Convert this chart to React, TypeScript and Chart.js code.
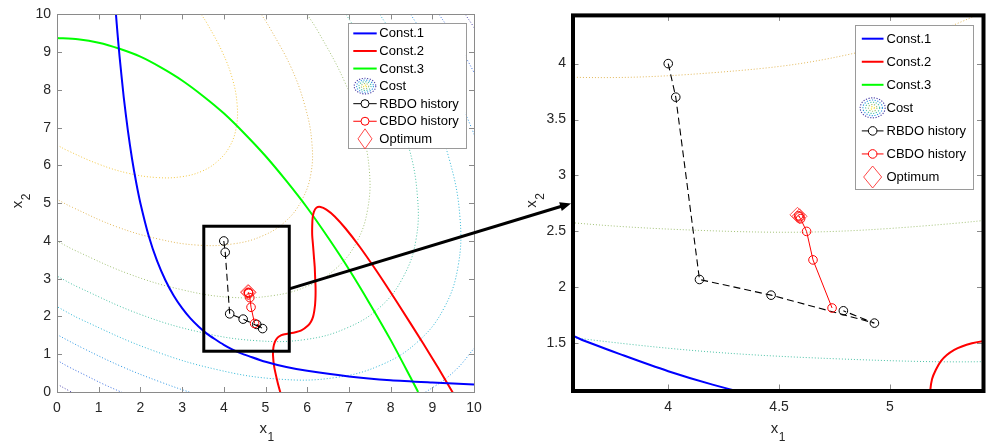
import React, { useEffect, useRef } from 'react';
import { Chart, registerables } from 'chart.js';

Chart.register(...registerables);

const FONT = '"Liberation Sans", Arial, Helvetica, sans-serif';

// ---------- axes ----------
const mainRange = [0, 10];
const mainTicks = [0, 1, 2, 3, 4, 5, 6, 7, 8, 9, 10];
const zoomXRange = [3.566, 5.422];
const zoomYRange = [1.073, 4.44];
const zoomXTicks = [4, 4.5, 5];
const zoomYTicks = [1.5, 2, 2.5, 3, 3.5, 4];

// ---------- zoom box drawn on the main plot, and the arrow (data units) ----------
const zoomBoxX = [3.52, 5.57];
const zoomBoxY = [1.08, 4.39];
const arrowY = [2.73, 2.75];

// ---------- constraints [x1, x2] ----------
const const1: number[][] = [
  [1.414, 10], [1.45, 9.51], [1.5, 8.89], [1.6, 7.81], [1.7, 6.92], [1.8, 6.17], [1.9, 5.54],
  [2.0, 5.0], [2.2, 4.13], [2.4, 3.47], [2.6, 2.96], [2.8, 2.55], [3.0, 2.22], [3.2, 1.95],
  [3.4, 1.73], [3.6, 1.54], [3.8, 1.39], [4.0, 1.25], [4.2, 1.13], [4.4, 1.03], [4.6, 0.95],
  [5.0, 0.8], [5.5, 0.66], [6.0, 0.56], [7.0, 0.41], [8.0, 0.31], [9.0, 0.25], [10.0, 0.2],
];
const const2: number[][] = [
  [5.42, -0.27], [5.35, 0.01], [5.29, 0.26], [5.21, 0.66], [5.18, 0.97], [5.19, 1.18], [5.23, 1.34],
  [5.29, 1.44], [5.37, 1.5], [5.46, 1.53], [5.67, 1.57], [5.86, 1.63], [6.02, 1.76], [6.09, 1.86],
  [6.14, 1.99], [6.17, 2.15], [6.19, 2.33], [6.2, 2.55], [6.2, 2.79], [6.19, 3.05], [6.18, 3.32],
  [6.16, 3.6], [6.14, 3.88], [6.12, 4.15], [6.12, 4.4], [6.13, 4.61], [6.16, 4.77], [6.22, 4.88],
  [6.32, 4.9], [6.46, 4.83], [6.66, 4.65], [6.92, 4.33], [7.25, 3.86], [7.66, 3.21], [8.17, 2.35],
  [8.79, 1.27], [9.14, 0.64], [9.52, -0.07],
];
const const3: number[][] = [
  [0, 9.375], [0.5, 9.34], [1, 9.25], [1.5, 9.09], [2, 8.88], [2.5, 8.59], [3, 8.25], [3.5, 7.84],
  [4, 7.38], [4.5, 6.84], [5, 6.25], [5.5, 5.59], [6, 4.88], [6.5, 4.09], [7, 3.25], [7.5, 2.34],
  [8, 1.38], [8.5, 0.34], [8.66, 0],
];

// ---------- cost contours (levels -0.5 ... -4) ----------
const cost05: number[][] = [
  [3.46, 10], [3.61, 9.74], [3.97, 8.99], [4.21, 8.28], [4.32, 7.61], [4.3, 7.02], [4.15, 6.52],
  [3.87, 6.13], [3.48, 5.85], [2.98, 5.7], [2.39, 5.68], [1.72, 5.79], [1.01, 6.03], [0.26, 6.39], [0, 6.54],
];
const cost10: number[][] = [
  [4.9, 10], [5.11, 9.63], [5.62, 8.58], [5.95, 7.56], [6.11, 6.63], [6.09, 5.79], [5.87, 5.08],
  [5.48, 4.52], [4.92, 4.13], [4.21, 3.92], [3.37, 3.89], [2.44, 4.05], [1.42, 4.38], [0.37, 4.89], [0, 5.1],
];
const cost15: number[][] = [
  [6.0, 10], [6.26, 9.55], [6.88, 8.26], [7.29, 7.02], [7.49, 5.87], [7.45, 4.84], [7.19, 3.98],
  [6.71, 3.29], [6.02, 2.81], [5.16, 2.55], [4.13, 2.51], [2.99, 2.71], [1.74, 3.12], [0.45, 3.74], [0, 4.0],
];
const cost20: number[][] = [
  [6.93, 10], [7.23, 9.48], [7.95, 7.99], [8.42, 6.55], [8.64, 5.23], [8.61, 4.04], [8.3, 3.04],
  [7.75, 2.25], [6.96, 1.7], [5.96, 1.39], [4.77, 1.36], [3.45, 1.58], [2.01, 2.05], [0.52, 2.77], [0, 3.07],
];
const cost25: number[][] = [
  [7.74, 10], [8.08, 9.42], [8.89, 7.75], [9.41, 6.15], [9.66, 4.67], [9.62, 3.34], [9.28, 2.22],
  [8.66, 1.34], [7.78, 0.72], [6.66, 0.38], [5.33, 0.34], [3.85, 0.59], [2.25, 1.12], [0.58, 1.92], [0, 2.26],
];
const cost30: number[][] = [
  [8.48, 10], [8.85, 9.36], [9.73, 7.53], [10.31, 5.78], [10.59, 4.16], [10.54, 2.71], [10.17, 1.48],
  [9.86, 0.96], [9.49, 0.51], [9.04, 0.14], [8.52, -0.17], [7.29, -0.54], [5.84, -0.59], [4.22, -0.31],
  [3.35, -0.06], [2.47, 0.27], [1.56, 0.67], [0.64, 1.15], [0, 1.52],
];
const cost35a: number[][] = [[9.16, 10], [9.34, 9.71], [9.56, 9.31], [9.78, 8.91], [10.07, 8.32]];
const cost35b: number[][] = [[0, 0.84], [0.29, 0.66], [0.69, 0.44], [1.09, 0.22], [1.68, -0.07]];
const cost40a: number[][] = [[9.79, 10], [9.98, 9.69], [10.1, 9.48]];
const cost40b: number[][] = [[0, 0.21], [0.31, 0.02], [0.52, -0.1]];

// ---------- optimisation histories ----------
const rbdoX = [4.0, 4.034, 4.141, 4.464, 4.93, 4.79];
const rbdoY = [4.0, 3.7, 2.07, 1.93, 1.68, 1.79];
const cbdoX = [4.739, 4.653, 4.624, 4.597, 4.588, 4.592];
const cbdoY = [1.815, 2.245, 2.5, 2.613, 2.64, 2.63];
const optX = [4.583, 4.592];
const optY = [2.648, 2.635];

const legendLabels = ['Const.1', 'Const.2', 'Const.3', 'Cost', 'RBDO history', 'CBDO history', 'Optimum'];

// ---------- styles ----------
const C_BLUE = '#0000ff';
const C_RED = '#ff0000';
const C_GREEN = '#00ff00';
const contourStyles: [number[][], string][] = [
  [cost05, '#f3c844'],
  [cost10, '#e2b85a'],
  [cost15, '#a3c278'],
  [cost20, '#4cc2a6'],
  [cost25, '#30b7d6'],
  [cost30, '#2e98e4'],
  [cost35a, '#3a6ee0'],
  [cost35b, '#3a6ee0'],
  [cost40a, '#4a40a8'],
  [cost40b, '#4a40a8'],
];

const RIGHT_LEFT = 520;

const toPts = (arr: number[][]) => arr.map(([x, y]) => ({ x, y }));
const zip = (xs: number[], ys: number[]) => xs.map((x, i) => ({ x, y: ys[i] }));

function buildDatasets() {
  const ds: any[] = [];
  ds.push({
    data: zip(optX, optY), showLine: false, pointStyle: 'rectRot', pointRadius: 7.5,
    pointBorderColor: 'rgba(255,40,40,0.8)', pointBackgroundColor: 'rgba(0,0,0,0)', pointBorderWidth: 1, order: 0, clip: 0,
  });
  ds.push({
    data: zip(cbdoX, cbdoY), showLine: true, borderColor: C_RED, borderWidth: 1, tension: 0,
    pointStyle: 'circle', pointRadius: 4.3, pointBorderColor: C_RED, pointBackgroundColor: 'rgba(0,0,0,0)', pointBorderWidth: 1,
    order: 1, clip: 0,
  });
  ds.push({
    data: zip(rbdoX, rbdoY), showLine: true, borderColor: '#000', borderWidth: 1.1, borderDash: [7, 4], tension: 0,
    pointStyle: 'circle', pointRadius: 4.3, pointBorderColor: '#000', pointBackgroundColor: 'rgba(0,0,0,0)', pointBorderWidth: 1,
    order: 2, clip: 0,
  });
  const lines: [number[][], string][] = [[const1, C_BLUE], [const2, C_RED], [const3, C_GREEN]];
  lines.forEach(([d, c], i) =>
    ds.push({ data: toPts(d), showLine: true, borderColor: c, borderWidth: 2, pointRadius: 0, tension: 0.25, order: 3 + i, clip: 0 })
  );
  contourStyles.forEach(([d, c], i) =>
    ds.push({
      data: toPts(d), showLine: true, borderColor: c, borderWidth: 1, borderDash: [1, 2], pointRadius: 0,
      tension: 0.4, order: 10 + i, clip: 0,
    })
  );
  return ds;
}

function axis(range: number[], ticks: number[], fit: (s: any) => void, padding: number) {
  return {
    type: 'linear',
    min: range[0],
    max: range[1],
    afterBuildTicks: (s: any) => { s.ticks = ticks.map((v) => ({ value: v })); },
    afterFit: fit,
    grid: { display: false, drawTicks: false },
    border: { display: false },
    ticks: {
      autoSkip: false, maxRotation: 0, padding,
      font: { family: FONT, size: 14 }, color: '#262626',
      callback: (v: any) => String(v),
    },
  };
}

type LegendCfg = {
  w: number; h: number; inset: number[]; firstRow: number; dy: number; sample: number[]; text: number;
  icon: number[]; diamond: number[]; circle: number;
};
const legendMain: LegendCfg = {
  w: 118, h: 125, inset: [8.3, 8.4], firstRow: 10.6, dy: 17.57, sample: [5.6, 29], text: 31.6,
  icon: [10.8, 7.8], diamond: [7, 10], circle: 4,
};
const legendZoom: LegendCfg = {
  w: 118.3, h: 164, inset: [10, 11], firstRow: 13.3, dy: 23.05, sample: [6.6, 28.3], text: 31.3,
  icon: [12.5, 10], diamond: [9, 11], circle: 4.3,
};

function drawLegend(ctx: CanvasRenderingContext2D, a: any, cfg: LegendCfg) {
  const bx = a.right - cfg.inset[0] - cfg.w;
  const by = a.top + cfg.inset[1];
  ctx.save();
  ctx.fillStyle = '#fff';
  ctx.fillRect(bx, by, cfg.w, cfg.h);
  ctx.strokeStyle = '#9a9a9a';
  ctx.lineWidth = 1;
  ctx.strokeRect(Math.round(bx) + 0.5, Math.round(by) + 0.5, Math.round(cfg.w), Math.round(cfg.h));
  const s0 = bx + cfg.sample[0];
  const s1 = bx + cfg.sample[1];
  const cx = (s0 + s1) / 2;
  legendLabels.forEach((label, i) => {
    const y = by + cfg.firstRow + i * cfg.dy;
    ctx.setLineDash([]);
    if (i < 3) {
      ctx.strokeStyle = [C_BLUE, C_RED, C_GREEN][i];
      ctx.lineWidth = 2;
      ctx.beginPath(); ctx.moveTo(s0, y); ctx.lineTo(s1, y); ctx.stroke();
    } else if (i === 3) {
      const rings: [number, string][] = [[1, '#4a40a8'], [0.78, '#2e98e4'], [0.56, '#4cc2a6'], [0.34, '#a3c278'], [0.14, '#f5e030']];
      ctx.lineWidth = 1.1;
      ctx.setLineDash([1.2, 1.5]);
      rings.forEach(([f, c]) => {
        ctx.strokeStyle = c;
        ctx.beginPath();
        ctx.ellipse(cx, y, cfg.icon[0] * f, cfg.icon[1] * f, 0, 0, Math.PI * 2);
        ctx.stroke();
      });
      ctx.setLineDash([]);
    } else if (i === 4 || i === 5) {
      const col = i === 4 ? '#000' : C_RED;
      ctx.strokeStyle = col;
      ctx.lineWidth = 1;
      ctx.beginPath(); ctx.moveTo(s0, y); ctx.lineTo(s1, y); ctx.stroke();
      ctx.fillStyle = '#fff';
      ctx.beginPath(); ctx.arc(cx, y, cfg.circle, 0, Math.PI * 2); ctx.fill(); ctx.stroke();
    } else {
      ctx.strokeStyle = 'rgba(255,40,40,0.85)';
      ctx.lineWidth = 1;
      ctx.beginPath();
      ctx.moveTo(cx, y - cfg.diamond[1]);
      ctx.lineTo(cx + cfg.diamond[0], y);
      ctx.lineTo(cx, y + cfg.diamond[1]);
      ctx.lineTo(cx - cfg.diamond[0], y);
      ctx.closePath();
      ctx.stroke();
    }
    ctx.fillStyle = '#000';
    ctx.font = `13px ${FONT}`;
    ctx.textAlign = 'left';
    ctx.textBaseline = 'middle';
    ctx.fillText(label, bx + cfg.text, y + 0.5);
  });
  ctx.restore();
}

function drawTitle(ctx: CanvasRenderingContext2D, main: string, sub: string, x: number, y: number, rotate: boolean) {
  ctx.save();
  ctx.translate(x, y);
  if (rotate) ctx.rotate(-Math.PI / 2);
  ctx.fillStyle = '#262626';
  ctx.textAlign = 'left';
  ctx.textBaseline = 'alphabetic';
  ctx.font = `15px ${FONT}`;
  const w1 = ctx.measureText(main).width;
  ctx.font = `12px ${FONT}`;
  const w2 = ctx.measureText(sub).width;
  const start = -(w1 + w2) / 2;
  ctx.font = `15px ${FONT}`;
  ctx.fillText(main, start, 0);
  ctx.font = `12px ${FONT}`;
  ctx.fillText(sub, start + w1 + 0.5, 8);
  ctx.restore();
}

function decorPlugin(kind: 'main' | 'zoom') {
  return {
    id: 'decor_' + kind,
    afterDraw(chart: any) {
      const { ctx, chartArea: a, scales } = chart;
      const xs = scales.x;
      const ys = scales.y;
      ctx.save();
      // inward tick marks on all four sides
      const tl = kind === 'main' ? 5 : 6.5;
      ctx.strokeStyle = '#8a8a8a';
      ctx.lineWidth = 1;
      ctx.beginPath();
      xs.ticks.forEach((t: any) => {
        const px = Math.round(xs.getPixelForValue(t.value)) + 0.5;
        ctx.moveTo(px, a.bottom); ctx.lineTo(px, a.bottom - tl);
        ctx.moveTo(px, a.top); ctx.lineTo(px, a.top + tl);
      });
      ys.ticks.forEach((t: any) => {
        const py = Math.round(ys.getPixelForValue(t.value)) + 0.5;
        ctx.moveTo(a.left, py); ctx.lineTo(a.left + tl, py);
        ctx.moveTo(a.right, py); ctx.lineTo(a.right - tl, py);
      });
      ctx.stroke();
      if (kind === 'main') {
        ctx.strokeStyle = '#8a8a8a';
        ctx.lineWidth = 1;
        ctx.strokeRect(Math.round(a.left) + 0.5, Math.round(a.top) + 0.5, Math.round(a.width), Math.round(a.height));
        // zoom box
        const x0 = xs.getPixelForValue(zoomBoxX[0]);
        const x1 = xs.getPixelForValue(zoomBoxX[1]);
        const y0 = ys.getPixelForValue(zoomBoxY[0]);
        const y1 = ys.getPixelForValue(zoomBoxY[1]);
        ctx.strokeStyle = '#000';
        ctx.lineWidth = 3;
        ctx.strokeRect(x0, y1, x1 - x0, y0 - y1);
        drawLegend(ctx, a, legendMain);
        drawTitle(ctx, 'x', '1', (a.left + a.right) / 2 + 1, 433.3, false);
        drawTitle(ctx, 'x', '2', 21.7, (a.top + a.bottom) / 2 - 2, true);
      } else {
        ctx.strokeStyle = '#000';
        ctx.lineWidth = 4;
        ctx.strokeRect(a.left + 1, a.top + 1, a.width - 1, a.height - 1);
        drawLegend(ctx, a, legendZoom);
        drawTitle(ctx, 'x', '1', (a.left + a.right) / 2, 433.3, false);
        drawTitle(ctx, 'x', '2', 16, (a.top + a.bottom) / 2 - 2, true);
      }
      ctx.restore();
    },
  };
}

function makeConfig(kind: 'main' | 'zoom'): any {
  const isMain = kind === 'main';
  return {
    type: 'scatter',
    data: { datasets: buildDatasets() },
    options: {
      responsive: false,
      animation: false,
      devicePixelRatio: 1,
      events: [],
      layout: { padding: isMain ? { left: 0, right: 26, top: 13, bottom: 0 } : { left: 0, right: 2, top: 12, bottom: 0 } },
      elements: { line: { capBezierPoints: false } },
      plugins: { legend: { display: false }, tooltip: { enabled: false } },
      scales: {
        x: axis(isMain ? mainRange : zoomXRange, isMain ? mainTicks : zoomXTicks, (s: any) => { s.height = isMain ? 52 : 53; }, 8),
        y: axis(isMain ? mainRange : zoomYRange, isMain ? mainTicks : zoomYTicks, (s: any) => { s.width = isMain ? 57 : 52; }, 6),
      },
    },
    plugins: [decorPlugin(kind)],
  };
}

function drawArrow(canvas: HTMLCanvasElement, left: any, right: any) {
  const ctx = canvas.getContext('2d');
  if (!ctx) return;
  ctx.clearRect(0, 0, canvas.width, canvas.height);
  const x0 = left.scales.x.getPixelForValue(zoomBoxX[1]);
  const y0 = left.scales.y.getPixelForValue(arrowY[0]);
  const x1 = right.scales.x.getPixelForValue(zoomXRange[0]) + RIGHT_LEFT - 1;
  const y1 = right.scales.y.getPixelForValue(arrowY[1]);
  const ang = Math.atan2(y1 - y0, x1 - x0);
  const L = 11;
  const W = 4.5;
  const bx = x1 - L * Math.cos(ang);
  const by = y1 - L * Math.sin(ang);
  ctx.strokeStyle = '#000';
  ctx.lineWidth = 3;
  ctx.beginPath();
  ctx.moveTo(x0, y0);
  ctx.lineTo(bx + 2 * Math.cos(ang), by + 2 * Math.sin(ang));
  ctx.stroke();
  ctx.fillStyle = '#000';
  ctx.beginPath();
  ctx.moveTo(x1, y1);
  ctx.lineTo(bx - W * Math.sin(ang), by + W * Math.cos(ang));
  ctx.lineTo(bx + W * Math.sin(ang), by - W * Math.cos(ang));
  ctx.closePath();
  ctx.fill();
}

export default function App() {
  const leftRef = useRef<HTMLCanvasElement>(null);
  const rightRef = useRef<HTMLCanvasElement>(null);
  const overlayRef = useRef<HTMLCanvasElement>(null);

  useEffect(() => {
    const left = new Chart(leftRef.current as HTMLCanvasElement, makeConfig('main'));
    const right = new Chart(rightRef.current as HTMLCanvasElement, makeConfig('zoom'));
    if (overlayRef.current) drawArrow(overlayRef.current, left, right);
    return () => {
      left.destroy();
      right.destroy();
    };
  }, []);

  return (
    <div style={{ position: 'absolute', left: 0, top: 0, width: 992, height: 444, background: '#fff', overflow: 'hidden' }}>
      <canvas ref={leftRef} width={500} height={444} style={{ position: 'absolute', left: 0, top: 0, width: 500, height: 444 }} />
      <canvas
        ref={rightRef}
        width={472}
        height={444}
        style={{ position: 'absolute', left: RIGHT_LEFT, top: 0, width: 472, height: 444 }}
      />
      <canvas
        ref={overlayRef}
        width={992}
        height={444}
        style={{ position: 'absolute', left: 0, top: 0, width: 992, height: 444, pointerEvents: 'none' }}
      />
    </div>
  );
}
